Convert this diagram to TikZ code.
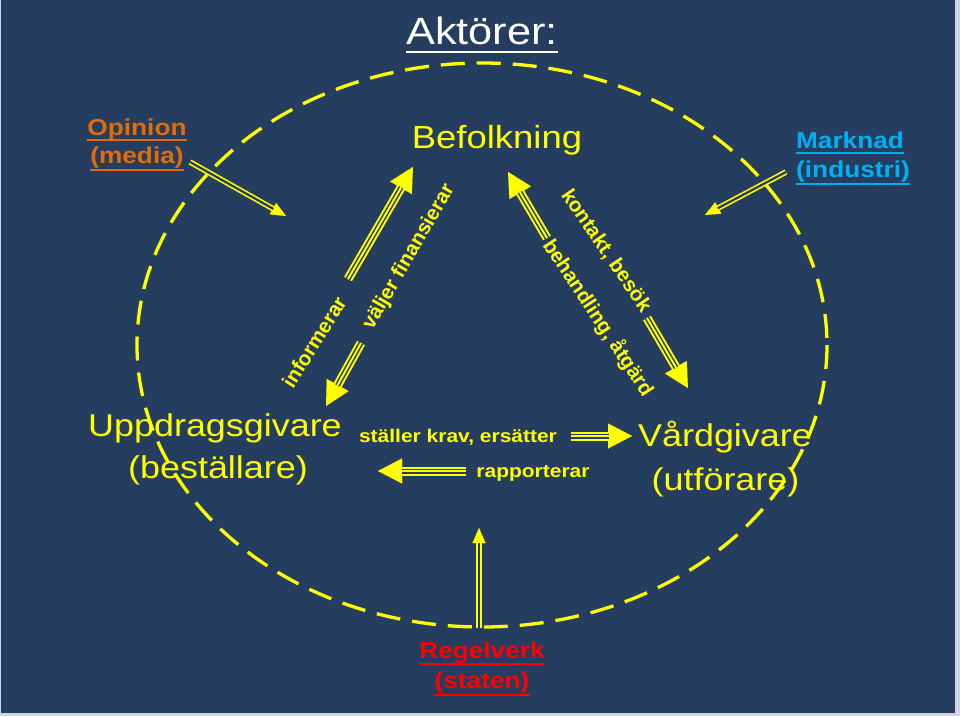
\documentclass[tikz,border=0pt]{standalone}
\usepackage{fontspec}
\setmainfont{Liberation Sans}
\usetikzlibrary{arrows.meta}
\definecolor{bg}{RGB}{37,62,95}
\definecolor{edge}{RGB}{205,214,224}
\definecolor{ylw}{RGB}{255,255,0}
\definecolor{orng}{RGB}{227,108,9}
\definecolor{cyn}{RGB}{0,176,240}
\definecolor{rd}{RGB}{255,0,0}
\tikzset{
  txt/.style={inner sep=0pt, anchor=base, xscale=1.14},
  big/.style={txt, text=ylw, font=\fontsize{31.5}{36}\selectfont},
  lbl/.style={txt, text=ylw, font=\bfseries\fontsize{18.4}{22}\selectfont},
  rlbl/.style={inner sep=0pt, anchor=center, text=ylw, font=\bfseries\fontsize{20.5}{24}\selectfont},
  ext/.style={txt, font=\bfseries\fontsize{23}{27}\selectfont},
  bighead/.style={draw=ylw, fill=ylw, line width=0.01pt, -{Triangle[length=24pt,width=25pt]}},
  bigshaft/.style={draw=ylw, line width=9pt, shorten >=23.5pt,
     postaction={draw=bg, line width=5pt, shorten >=23.5pt},
     postaction={draw=ylw, line width=2pt, shorten >=23.5pt}},
  thinhead/.style={draw=ylw, fill=ylw, line width=0.01pt, -{Triangle[length=15pt,width=13pt]}},
  thinshaft/.style={draw=ylw, line width=5.5pt, shorten >=14.5pt,
     postaction={draw=bg, line width=2.2pt, shorten >=14.5pt}},
  ulw/.style={line width=2.4pt}
}
\newcommand{\bigarr}[2]{\draw[bighead] (#1) -- (#2); \draw[bigshaft] (#1) -- (#2);}
\newcommand{\thinarr}[2]{\draw[thinhead] (#1) -- (#2); \draw[thinshaft] (#1) -- (#2);}
\newcommand{\ulnode}[3]{\draw[ulw, #2] ([yshift=-#3pt]#1.base west) -- ([yshift=-#3pt]#1.base east);}
\begin{document}
\begin{tikzpicture}[x=1pt, y=-1pt]
\fill[edge] (0,0) rectangle (960,716);
\fill[bg] (1,0) rectangle (955,713);
\useasboundingbox (0,0) rectangle (960,716);

% title
\node[txt, text=white, font=\fontsize{38}{44}\selectfont] (title) at (482,44) {Aktörer:};
\ulnode{title}{white}{8}

% main actors
\node[big, font=\fontsize{32}{36}\selectfont] (bef) at (497,148) {Befolkning};
\node[big] (upp1) at (215,436) {Uppdragsgivare};
\node[big] (upp2) at (218,478) {(beställare)};
\node[big] (vard1) at (725,446) {Vårdgivare};
\node[big] (vard2) at (725.5,490) {(utförare)};

% external actors
\node[ext, text=orng] (op1) at (137,135) {Opinion};
\node[ext, text=orng] (op2) at (137,163) {(media)};
\ulnode{op1}{orng}{5}
\ulnode{op2}{orng}{7}
\node[ext, text=cyn] (mk1) at (850,148) {Marknad};
\node[ext, text=cyn] (mk2) at (853,177) {(industri)};
\ulnode{mk1}{cyn}{5}
\ulnode{mk2}{cyn}{7}
\node[ext, text=rd] (rg1) at (482,658) {Regelverk};
\node[ext, text=rd] (rg2) at (482,688) {(staten)};
\ulnode{rg1}{rd}{6}
\ulnode{rg2}{rd}{7}

% labels
\node[lbl] (krav) at (458,442) {ställer krav, ersätter};
\node[lbl] (rapp) at (533,477) {rapporterar};
\node[rlbl, rotate=58] (inf) at (314,342) {informerar};
\node[rlbl, rotate=60] (valj) at (409,257) {väljer finansierar};
\node[rlbl, rotate=-55.7] (kont) at (606,251) {kontakt, besök};
\node[rlbl, rotate=-56.5] (beh) at (598,318) {behandling, åtgärd};

% ellipse
\draw[ylw, line width=3.3pt, dash pattern=on 24pt off 12pt] (482,345) ellipse [x radius=345, y radius=282];

% arrow end points
\coordinate (a1s) at (348,279); \coordinate (a1t) at (413,167);
\coordinate (a2s) at (361,343); \coordinate (a2t) at (326,406);
\coordinate (a3s) at (547,238); \coordinate (a3t) at (508,172);
\coordinate (a4s) at (647,318); \coordinate (a4t) at (688,388);
\coordinate (a5s) at (571,436); \coordinate (a5t) at (632,436);
\coordinate (a6s) at (466,471); \coordinate (a6t) at (378,471);
\coordinate (b1s) at (190,162); \coordinate (b1t) at (286,216);
\coordinate (b2s) at (786,172); \coordinate (b2t) at (705,215);
\coordinate (b3s) at (479,628); \coordinate (b3t) at (479,528);

\bigarr{a1s}{a1t}
\bigarr{a2s}{a2t}
\bigarr{a3s}{a3t}
\bigarr{a4s}{a4t}
\bigarr{a5s}{a5t}
\bigarr{a6s}{a6t}
\thinarr{b1s}{b1t}
\thinarr{b2s}{b2t}
\thinarr{b3s}{b3t}
\end{tikzpicture}
\end{document}
